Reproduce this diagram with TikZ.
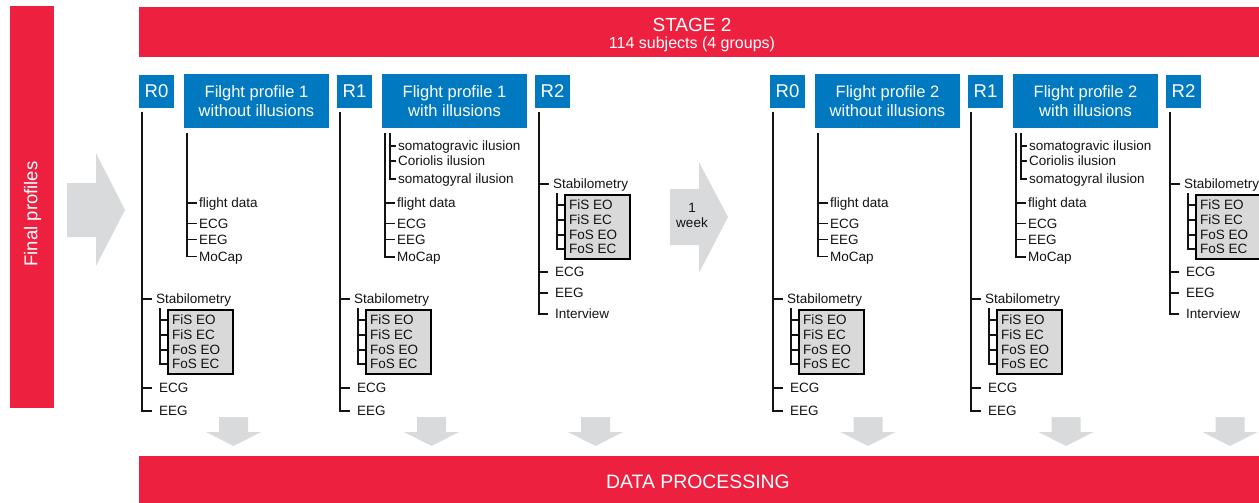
\documentclass[tikz,border=0pt]{standalone}
\usepackage{fontspec}
\setmainfont{Liberation Sans}
\usetikzlibrary{calc}
\definecolor{redc}{RGB}{237,32,64}
\definecolor{bluec}{RGB}{0,121,193}
\definecolor{arrg}{RGB}{217,218,219}
\definecolor{boxg}{RGB}{217,217,217}
\definecolor{ink}{RGB}{20,18,18}

% Stabilometry block: #1 name prefix, #2 trunk x, #3 y of the Stabilometry branch
\newcommand\stabblock[3]{%
  \node[lbl] (#1st) at ({#2+14},#3) {Stabilometry};
  \draw[tree] (#2,#3) -- ([xshift=-4pt]#1st.west);
  \node[sbox, minimum width=65pt, minimum height=64pt, anchor=north west] (#1bx) at ({#2+25},{#3+10}) {};
  \coordinate (#1sv) at ({#2+18},{#3+9});
  \node[lbl] (#1i1) at ({#2+30},{#3+21}) {FiS EO};
  \node[lbl] (#1i2) at ({#2+30},{#3+36}) {FiS EC};
  \node[lbl] (#1i3) at ({#2+30},{#3+51}) {FoS EO};
  \node[lbl] (#1i4) at ({#2+30},{#3+65}) {FoS EC};
  \draw[tree] (#1sv) |- (#1i4.west -| #1bx.west);
  \draw[tree] (#1sv |- #1i1.west) -- (#1i1.west -| #1bx.west);
  \draw[tree] (#1sv |- #1i2.west) -- (#1i2.west -| #1bx.west);
  \draw[tree] (#1sv |- #1i3.west) -- (#1i3.west -| #1bx.west);
}
\newcommand\grayDown[1]{%
  \fill[garrow] ({#1-14.5},417) -- ({#1+14.5},417) -- ({#1+14.5},432) -- ({#1+27.5},432)
    -- (#1,446) -- ({#1-27.5},432) -- ({#1-14.5},432) -- cycle;
}

\begin{document}
\begin{tikzpicture}[x=1pt,y=-1pt,
  redbar/.style={fill=redc,draw=none},
  bbox/.style={fill=bluec,text=white,inner sep=0pt,align=center,font=\fontsize{16.5}{19}\selectfont},
  rbox/.style={bbox,minimum width=35pt,minimum height=33pt,font=\fontsize{18.5}{20}\selectfont},
  fbox/.style={bbox,minimum width=145pt,minimum height=54pt},
  lbl/.style={anchor=west,inner sep=0pt,text height=9.7pt,text depth=0pt,font=\fontsize{13.5}{15}\selectfont,text=ink},
  tree/.style={draw=ink,line width=1.4pt},
  sbox/.style={fill=boxg,draw=black,line width=1.6pt},
  garrow/.style={fill=arrg,draw=none},
  bartext/.style={text=white,inner sep=0pt,anchor=base}]
\useasboundingbox (0,0) rectangle (1259,503);

% red bars
\fill[redbar] (10,6) rectangle (54,408);
\node[bartext,rotate=90,font=\fontsize{18.5}{20}\selectfont] (final) at (37.5,214) {Final profiles};
\fill[redbar] (139,7) rectangle (1259,57);
\node[bartext,font=\fontsize{19}{21}\selectfont] (stage) at (692,32) {STAGE 2};
\node[bartext,font=\fontsize{16}{18}\selectfont] (subj) at (692,49) {114 subjects (4 groups)};
\fill[redbar] (139,456) rectangle (1259,503);
\node[bartext,font=\fontsize{19.4}{21}\selectfont] (dp) at (698,488) {DATA PROCESSING};

% big arrow and 1 week arrow
\fill[garrow] (67,183) -- (96,183) -- (96,153) -- (125,210) -- (96,266) -- (96,237) -- (67,237) -- cycle;
\fill[garrow] (670,189) -- (699,189) -- (699,162) -- (728,217) -- (699,273) -- (699,245) -- (670,245) -- cycle;
\node[align=center,inner sep=0pt,font=\fontsize{13.5}{15}\selectfont,text=ink] (week) at (692,215) {1\\week};

% down arrows
\grayDown{233.5}
\grayDown{431.5}
\grayDown{595.5}
\grayDown{868}
\grayDown{1066}
\grayDown{1230}

\foreach \h/\dx/\n/\fw in {a/0/1/Filght,b/631/2/Flight}{
\begin{scope}[xshift=\dx pt]
  % blue boxes
  \node[rbox] (\h-r0) at (156.5,91.5) {R0};
  \node[fbox] (\h-f0) at (256.5,101) {\fw{} profile \n\\without illusions};
  \node[rbox] (\h-r1) at (354.5,91.5) {R1};
  \node[fbox] (\h-f1) at (454.5,101) {Flight profile \n\\with illusions};
  \node[rbox] (\h-r2) at (552.5,91.5) {R2};

  % R0 column
  \coordinate (\h-t0) at (142,112);
  \stabblock{\h-s0}{142}{299}
  \node[lbl] (\h-r0ecg) at (159,388) {ECG};
  \node[lbl] (\h-r0eeg) at (159,411) {EEG};
  \draw[tree] (\h-t0) |- ([xshift=-7pt]\h-r0eeg.west);
  \draw[tree] (\h-t0 |- \h-r0ecg.west) -- ([xshift=-7pt]\h-r0ecg.west);

  % flight profile without illusions
  \coordinate (\h-t1) at (187,133);
  \node[lbl] (\h-fa1) at (199,203) {flight data};
  \node[lbl] (\h-fa2) at (199,223.5) {ECG};
  \node[lbl] (\h-fa3) at (199,239.5) {EEG};
  \node[lbl] (\h-fa4) at (199,256.5) {MoCap};
  \draw[tree] (\h-t1) |- ([xshift=-2pt]\h-fa4.west);
  \draw[tree] (\h-t1 |- \h-fa1.west) -- ([xshift=-2pt]\h-fa1.west);
  \draw[tree] (\h-t1 |- \h-fa2.west) -- ([xshift=-2pt]\h-fa2.west);
  \draw[tree] (\h-t1 |- \h-fa3.west) -- ([xshift=-2pt]\h-fa3.west);

  % flight profile with illusions
  \coordinate (\h-t2) at (385,133);
  \coordinate (\h-t3) at (390,133);
  \node[lbl] (\h-il1) at (398,146) {somatogravic ilusion};
  \node[lbl] (\h-il2) at (398,161) {Coriolis ilusion};
  \node[lbl] (\h-il3) at (398,179) {somatogyral ilusion};
  \draw[tree] (\h-t3) |- ([xshift=-2pt]\h-il3.west);
  \draw[tree] (\h-t3 |- \h-il1.west) -- ([xshift=-2pt]\h-il1.west);
  \draw[tree] (\h-t3 |- \h-il2.west) -- ([xshift=-2pt]\h-il2.west);
  \node[lbl] (\h-fb1) at (397,203) {flight data};
  \node[lbl] (\h-fb2) at (397,223.5) {ECG};
  \node[lbl] (\h-fb3) at (397,239.5) {EEG};
  \node[lbl] (\h-fb4) at (397,257) {MoCap};
  \draw[tree] (\h-t2) |- ([xshift=-2pt]\h-fb4.west);
  \draw[tree] (\h-t2 |- \h-fb1.west) -- ([xshift=-2pt]\h-fb1.west);
  \draw[tree] (\h-t2 |- \h-fb2.west) -- ([xshift=-2pt]\h-fb2.west);
  \draw[tree] (\h-t2 |- \h-fb3.west) -- ([xshift=-2pt]\h-fb3.west);

  % R1 column
  \coordinate (\h-t4) at (340,112);
  \stabblock{\h-s1}{340}{299}
  \node[lbl] (\h-r1ecg) at (357,388) {ECG};
  \node[lbl] (\h-r1eeg) at (357,411) {EEG};
  \draw[tree] (\h-t4) |- ([xshift=-7pt]\h-r1eeg.west);
  \draw[tree] (\h-t4 |- \h-r1ecg.west) -- ([xshift=-7pt]\h-r1ecg.west);

  % R2 column
  \coordinate (\h-t5) at (539,112);
  \stabblock{\h-s2}{539}{184}
  \node[lbl] (\h-r2ecg) at (555,272) {ECG};
  \node[lbl] (\h-r2eeg) at (555,293) {EEG};
  \node[lbl] (\h-r2int) at (555,314) {Interview};
  \draw[tree] (\h-t5) |- ([xshift=-7pt]\h-r2int.west);
  \draw[tree] (\h-t5 |- \h-r2ecg.west) -- ([xshift=-7pt]\h-r2ecg.west);
  \draw[tree] (\h-t5 |- \h-r2eeg.west) -- ([xshift=-7pt]\h-r2eeg.west);
\end{scope}
}
\end{tikzpicture}
\end{document}
